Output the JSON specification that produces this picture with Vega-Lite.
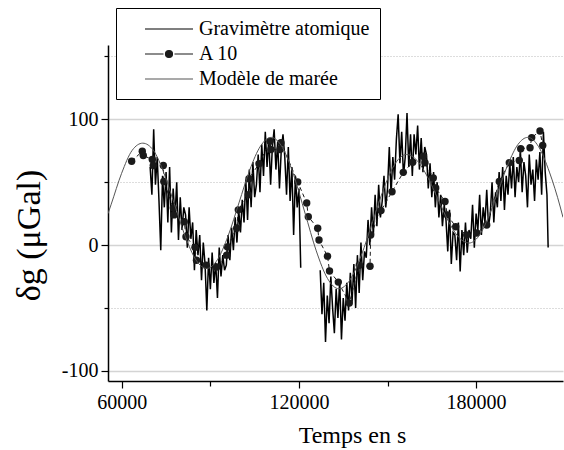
{
  "$schema": "https://vega.github.io/schema/vega-lite/v6.json",
  "width": 455,
  "height": 336,
  "autosize": {"type": "none"},
  "padding": {"left": 108, "top": 45, "right": 1, "bottom": 69},
  "background": "white",
  "config": {
    "view": {"stroke": null},
    "legend": {"labelFont": "Liberation Serif", "labelFontSize": 20, "labelColor": "#000", "labelLimit": 400}
  },
  "datasets": {
    "grav": [
      {"t":69600,"v":62,"s":1},{"t":70200,"v":40,"s":1},{"t":70800,"v":92,"s":1},{"t":71400,"v":48,"s":1},{"t":72000,"v":70,"s":1},{"t":72600,"v":35,"s":1},{"t":73200,"v":-4,"s":1},{"t":73800,"v":55,"s":1},{"t":74400,"v":30,"s":1},
      {"t":75000,"v":58,"s":1},{"t":75600,"v":18,"s":1},{"t":76200,"v":62,"s":1},{"t":76800,"v":10,"s":1},{"t":77400,"v":45,"s":1},{"t":78000,"v":22,"s":1},{"t":78600,"v":50,"s":1},{"t":79200,"v":4,"s":1},{"t":79800,"v":38,"s":1},{"t":80400,"v":12,"s":1},{"t":81000,"v":30,"s":1},
      {"t":81600,"v":24,"s":1},{"t":82200,"v":-2,"s":1},{"t":82800,"v":30,"s":1},{"t":83400,"v":5,"s":1},{"t":84000,"v":18,"s":1},{"t":84600,"v":-20,"s":1},{"t":85200,"v":12,"s":1},{"t":85800,"v":-8,"s":1},{"t":86400,"v":8,"s":1},{"t":87000,"v":-28,"s":1},{"t":87600,"v":2,"s":1},{"t":88200,"v":-15,"s":1},
      {"t":88800,"v":-52,"s":1},{"t":89400,"v":-10,"s":1},{"t":90000,"v":-35,"s":1},{"t":90600,"v":-6,"s":1},{"t":91200,"v":-30,"s":1},{"t":91800,"v":-14,"s":1},{"t":92400,"v":-42,"s":1},{"t":93000,"v":-2,"s":1},{"t":93600,"v":-25,"s":1},{"t":94200,"v":-8,"s":1},{"t":94800,"v":-20,"s":1},
      {"t":95400,"v":-16,"s":1},{"t":96000,"v":8,"s":1},{"t":96600,"v":-12,"s":1},{"t":97200,"v":14,"s":1},{"t":97800,"v":-4,"s":1},{"t":98400,"v":22,"s":1},{"t":99000,"v":2,"s":1},{"t":99600,"v":28,"s":1},{"t":100200,"v":10,"s":1},{"t":100800,"v":36,"s":1},{"t":101400,"v":18,"s":1},
      {"t":102000,"v":52,"s":1},{"t":102600,"v":20,"s":1},{"t":103200,"v":60,"s":1},{"t":103800,"v":30,"s":1},{"t":104400,"v":66,"s":1},{"t":105000,"v":38,"s":1},{"t":105600,"v":48,"s":1},{"t":106200,"v":72,"s":1},{"t":106800,"v":42,"s":1},{"t":107400,"v":80,"s":1},{"t":108000,"v":55,"s":1},
      {"t":108600,"v":90,"s":1},{"t":109200,"v":62,"s":1},{"t":109800,"v":85,"s":1},{"t":110400,"v":48,"s":1},{"t":111000,"v":78,"s":1},{"t":111600,"v":92,"s":1},{"t":112200,"v":60,"s":1},{"t":112800,"v":82,"s":1},{"t":113400,"v":45,"s":1},{"t":114000,"v":75,"s":1},{"t":114600,"v":88,"s":1},
      {"t":115200,"v":70,"s":1},{"t":115800,"v":40,"s":1},{"t":116400,"v":78,"s":1},{"t":117000,"v":35,"s":1},{"t":117600,"v":62,"s":1},{"t":118200,"v":8,"s":1},{"t":118800,"v":55,"s":1},{"t":119400,"v":30,"s":1},{"t":120000,"v":45,"s":1},{"t":120600,"v":-18,"s":1},
      {"t":127200,"v":-20,"s":2},{"t":127800,"v":-55,"s":2},{"t":128400,"v":-30,"s":2},{"t":129000,"v":-77,"s":2},{"t":129600,"v":-40,"s":2},{"t":130200,"v":-62,"s":2},{"t":130800,"v":-25,"s":2},{"t":131400,"v":-50,"s":2},{"t":132000,"v":-70,"s":2},{"t":132600,"v":-35,"s":2},{"t":133200,"v":-58,"s":2},{"t":133800,"v":-28,"s":2},{"t":134400,"v":-75,"s":2},{"t":135000,"v":-42,"s":2},{"t":135600,"v":-60,"s":2},{"t":136200,"v":-30,"s":2},{"t":136800,"v":-52,"s":2},{"t":137400,"v":-22,"s":2},
      {"t":138000,"v":-45,"s":2},{"t":138600,"v":-15,"s":2},{"t":139200,"v":-50,"s":2},{"t":139800,"v":-8,"s":2},{"t":140400,"v":-38,"s":2},{"t":141000,"v":2,"s":2},{"t":141600,"v":-28,"s":2},{"t":142200,"v":-5,"s":2},
      {"t":142800,"v":-10,"s":2},{"t":143400,"v":20,"s":2},{"t":144000,"v":0,"s":2},{"t":144600,"v":30,"s":2},{"t":145200,"v":8,"s":2},{"t":145800,"v":40,"s":2},{"t":146400,"v":15,"s":2},{"t":147000,"v":48,"s":2},{"t":147600,"v":22,"s":2},{"t":148200,"v":35,"s":2},{"t":148800,"v":55,"s":2},{"t":149400,"v":30,"s":2},
      {"t":150000,"v":45,"s":2},{"t":150600,"v":78,"s":2},{"t":151200,"v":40,"s":2},{"t":151800,"v":70,"s":2},{"t":152400,"v":52,"s":2},{"t":153000,"v":84,"s":2},{"t":153600,"v":104,"s":2},{"t":154200,"v":65,"s":2},{"t":154800,"v":90,"s":2},{"t":155400,"v":55,"s":2},
      {"t":156000,"v":70,"s":2},{"t":156600,"v":105,"s":2},{"t":157200,"v":62,"s":2},{"t":157800,"v":88,"s":2},{"t":158400,"v":55,"s":2},{"t":159000,"v":88,"s":2},{"t":159600,"v":72,"s":2},{"t":160200,"v":95,"s":2},{"t":160800,"v":60,"s":2},{"t":161400,"v":85,"s":2},{"t":162000,"v":58,"s":2},{"t":162600,"v":78,"s":2},
      {"t":163200,"v":72,"s":2},{"t":163800,"v":45,"s":2},{"t":164400,"v":65,"s":2},{"t":165000,"v":38,"s":2},{"t":165600,"v":58,"s":2},{"t":166200,"v":30,"s":2},{"t":166800,"v":50,"s":2},{"t":167400,"v":22,"s":2},{"t":168000,"v":40,"s":2},{"t":168600,"v":15,"s":2},{"t":169200,"v":32,"s":2},
      {"t":169800,"v":20,"s":2},{"t":170400,"v":-5,"s":2},{"t":171000,"v":28,"s":2},{"t":171600,"v":-15,"s":2},{"t":172200,"v":10,"s":2},{"t":172800,"v":8,"s":2},{"t":173400,"v":-12,"s":2},{"t":174000,"v":18,"s":2},{"t":174600,"v":-21,"s":2},{"t":175200,"v":12,"s":2},{"t":175800,"v":-8,"s":2},{"t":176400,"v":18,"s":2},{"t":177000,"v":-6,"s":2},{"t":177600,"v":12,"s":2},
      {"t":178200,"v":5,"s":2},{"t":178800,"v":32,"s":2},{"t":179400,"v":-2,"s":2},{"t":180000,"v":25,"s":2},{"t":180600,"v":12,"s":2},{"t":181200,"v":40,"s":2},{"t":181800,"v":8,"s":2},{"t":182400,"v":30,"s":2},{"t":183000,"v":18,"s":2},{"t":183600,"v":44,"s":2},{"t":184200,"v":15,"s":2},
      {"t":184800,"v":25,"s":2},{"t":185400,"v":50,"s":2},{"t":186000,"v":18,"s":2},{"t":186600,"v":42,"s":2},{"t":187200,"v":30,"s":2},{"t":187800,"v":58,"s":2},{"t":188400,"v":35,"s":2},{"t":189000,"v":62,"s":2},{"t":189600,"v":28,"s":2},{"t":190200,"v":55,"s":2},{"t":190800,"v":40,"s":2},{"t":191400,"v":65,"s":2},
      {"t":192000,"v":45,"s":2},{"t":192600,"v":70,"s":2},{"t":193200,"v":38,"s":2},{"t":193800,"v":62,"s":2},{"t":194400,"v":50,"s":2},{"t":195000,"v":75,"s":2},{"t":195600,"v":42,"s":2},{"t":196200,"v":66,"s":2},{"t":196800,"v":55,"s":2},{"t":197400,"v":30,"s":2},{"t":198000,"v":72,"s":2},{"t":198600,"v":48,"s":2},{"t":199200,"v":60,"s":2},{"t":199800,"v":35,"s":2},{"t":200400,"v":68,"s":2},{"t":201000,"v":52,"s":2},{"t":201600,"v":74,"s":2},{"t":202200,"v":40,"s":2},{"t":202800,"v":90,"s":2},{"t":203400,"v":58,"s":2},
      {"t":204000,"v":40,"s":2},{"t":204400,"v":-2,"s":2}
    ],
    "a10": [
      {"t":63350,"v":66.6},{"t":66940,"v":74.6},{"t":67280,"v":71.2},{"t":70330,"v":68},{"t":70670,"v":63.2},{"t":74060,"v":63.2},{"t":74230,"v":50.6},{"t":77440,"v":29.4},{"t":77680,"v":24},{"t":81170,"v":18.6},{"t":81740,"v":6.6},{"t":84790,"v":-1.8},{"t":85300,"v":-12},{"t":88520,"v":-16},{"t":92140,"v":-17.4},{"t":95530,"v":-8},{"t":95730,"v":-1.4},{"t":98920,"v":13.4},{"t":99460,"v":28},{"t":102850,"v":40},{"t":103080,"v":52.8},{"t":106470,"v":64.6},{"t":110200,"v":82.6},{"t":110530,"v":76},{"t":113580,"v":76},{"t":113920,"v":81.4},{"t":119580,"v":50.2},{"t":122630,"v":33.4},{"t":123170,"v":22.6},{"t":126350,"v":13.4},{"t":126790,"v":4},{"t":129670,"v":-8.8},{"t":130350,"v":-20.6},{"t":133330,"v":-29.4},{"t":137050,"v":-46},{"t":140440,"v":-16},{"t":144070,"v":-16.8},{"t":144300,"v":8},{"t":147790,"v":27.4},{"t":151520,"v":42.4},{"t":155340,"v":57.8},{"t":158530,"v":65.8},{"t":162120,"v":70.6},{"t":162690,"v":65.4},{"t":165500,"v":53.4},{"t":166320,"v":45.4},{"t":169470,"v":34.6},{"t":170250,"v":24},{"t":173090,"v":14.6},{"t":176820,"v":8},{"t":180200,"v":9.6},{"t":183590,"v":16},{"t":187860,"v":50.6},{"t":191250,"v":65.4},{"t":194630,"v":67.2},{"t":195110,"v":76.6},{"t":198260,"v":77.4},{"t":198830,"v":85.4},{"t":201640,"v":90.6},{"t":202560,"v":79.2}
    ],
    "model": [
      {"t":55330,"v":25},{"t":56350,"v":32},{"t":59933,"v":57},{"t":63517,"v":75.3},{"t":67100,"v":81},{"t":70710,"v":75.3},{"t":74320,"v":56.9},{"t":77930,"v":31.7},{"t":81540,"v":6.6},{"t":85150,"v":-11.9},{"t":88760,"v":-18.6},{"t":92400,"v":-11.6},{"t":96040,"v":7.5},{"t":99680,"v":33.5},{"t":103320,"v":59.6},{"t":106960,"v":78.6},{"t":110600,"v":85.6},{"t":114417,"v":77.5},{"t":118233,"v":55.5},{"t":122050,"v":25.5},{"t":125867,"v":-4.6},{"t":129683,"v":-26.6},{"t":133500,"v":-34.7},{"t":137325,"v":-27.5},{"t":141150,"v":-8},{"t":144975,"v":18.7},{"t":148800,"v":45.3},{"t":152625,"v":64.9},{"t":156450,"v":72},{"t":159975,"v":67.3},{"t":163500,"v":54.4},{"t":167025,"v":36.8},{"t":170550,"v":19.2},{"t":174075,"v":6.3},{"t":177600,"v":1.6},{"t":180917,"v":7.2},{"t":184233,"v":22.6},{"t":187550,"v":43.6},{"t":190867,"v":64.6},{"t":194183,"v":80},{"t":197500,"v":85.6},{"t":201167,"v":78.2},{"t":204833,"v":58},{"t":208500,"v":30.3},{"t":209430,"v":22}
    ]
  },
  "encoding": {
    "x": {
      "field": "t", "type": "quantitative",
      "scale": {"domain": [55330, 209430], "nice": false, "zero": false},
      "axis": {
        "values": [60000, 90000, 120000, 150000, 180000],
        "labelExpr": "datum.value % 60000 === 0 ? toString(datum.value) : ''",
        "grid": false,
        "tickSize": {"condition": {"test": "datum.value % 60000 !== 0", "value": 5}, "value": 7},
        "tickColor": "#000", "tickWidth": 1.2,
        "domainColor": "#000", "domainWidth": 1.5,
        "labelFont": "Liberation Serif", "labelFontSize": 20, "labelColor": "#000", "labelPadding": 4,
        "title": "Temps en s", "titleFont": "Liberation Serif", "titleFontSize": 24, "titleFontWeight": "normal", "titleColor": "#000",
        "titleX": 244, "titleY": 61, "titleAlign": "center", "titleBaseline": "alphabetic"
      }
    },
    "y": {
      "field": "v", "type": "quantitative",
      "scale": {"domain": [-108, 159], "nice": false, "zero": false},
      "axis": {
        "values": [-100, -50, 0, 50, 100, 150],
        "labelExpr": "datum.value % 100 === 0 ? toString(datum.value) : ''",
        "grid": true,
        "gridColor": {"condition": {"test": "datum.value % 100 !== 0", "value": "#bbbbbb"}, "value": "#d4d4d4"},
        "gridDash": {"condition": {"test": "datum.value % 100 !== 0", "value": [1, 2]}, "value": []},
        "gridWidth": {"condition": {"test": "datum.value % 100 !== 0", "value": 1}, "value": 1.5},
        "tickSize": {"condition": {"test": "datum.value % 100 !== 0", "value": 4}, "value": 7},
        "tickColor": "#000", "tickWidth": 1.2,
        "domainColor": "#000", "domainWidth": 1.5,
        "labelFont": "Liberation Serif", "labelFontSize": 20, "labelColor": "#000", "labelPadding": 3,
        "title": "δg (μGal)", "titleFont": "Liberation Serif", "titleFontSize": 34, "titleFontWeight": "normal", "titleColor": "#000",
        "titleAngle": 270, "titleX": -69, "titleY": 190, "titleAlign": "center", "titleBaseline": "alphabetic"
      }
    }
  },
  "layer": [
    {
      "data": {"name": "grav"},
      "mark": {"type": "line", "strokeWidth": 1.5, "clip": true},
      "encoding": {
        "detail": {"field": "s", "type": "nominal"},
        "color": {
          "datum": "Gravimètre atomique", "type": "nominal",
          "scale": {"domain": ["Gravimètre atomique", "A 10", "Modèle de marée"], "range": ["#000000", "#1a1a1a", "#555555"]},
          "legend": {
            "orient": "none", "legendX": 8, "legendY": -37, "title": null,
            "strokeColor": "#000", "fillColor": "#fff", "padding": 10,
            "labelFont": "Liberation Serif", "labelFontSize": 20, "labelColor": "#000", "labelLimit": 400,
            "symbolSize": 400, "symbolType": "stroke", "symbolStrokeWidth": 1.2, "symbolOffset": 32,
            "labelOffset": 19, "rowPadding": 4,
            "encode": {
              "symbols": {
                "update": {
                  "shape": {"signal": "datum.value === 'A 10' ? 'M-2.4,0H-0.55M0.55,0H2.4M-0.35,0A0.35,0.35,0,1,1,0.35,0A0.35,0.35,0,1,1,-0.35,0Z' : 'M-2.4,0H2.4'"},
                  "fill": {"signal": "datum.value === 'A 10' ? '#1a1a1a' : 'transparent'"},
                  "stroke": {"signal": "datum.value === 'Modèle de marée' ? '#555555' : '#000000'"},
                  "strokeWidth": {"value": 1.2},
                  "opacity": {"value": 1}
                }
              },
              "labels": {
                "update": {
                  "font": {"value": "Liberation Serif"},
                  "fontSize": {"value": 20},
                  "fill": {"value": "#000000"}
                }
              }
            }
          }
        }
      }
    },
    {
      "data": {"name": "a10"},
      "mark": {"type": "line", "strokeWidth": 1, "strokeDash": [4, 3], "clip": true},
      "encoding": {"color": {"datum": "A 10", "type": "nominal"}}
    },
    {
      "data": {"name": "a10"},
      "mark": {"type": "point", "filled": true, "size": 55, "opacity": 1, "clip": true},
      "encoding": {"color": {"datum": "A 10", "type": "nominal"}}
    },
    {
      "data": {"name": "model"},
      "mark": {"type": "line", "strokeWidth": 1, "interpolate": "monotone", "clip": true},
      "encoding": {"color": {"datum": "Modèle de marée", "type": "nominal"}}
    }
  ]
}
